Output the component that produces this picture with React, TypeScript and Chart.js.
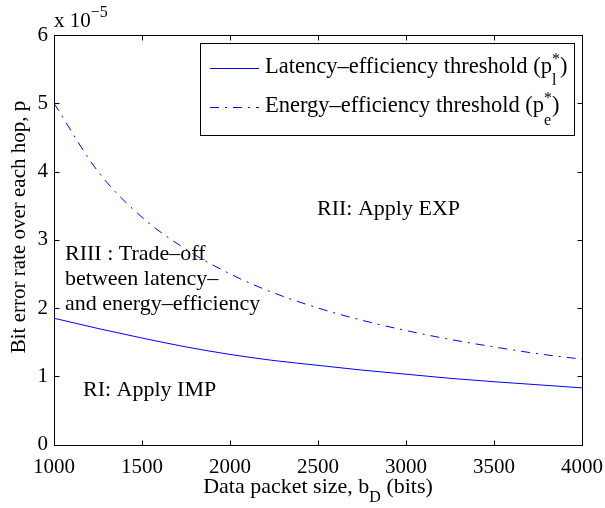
import React, { useEffect, useRef } from "react";
import { Chart, registerables } from "chart.js";

Chart.register(...registerables);

// Data (p values in units of 1e-5)
const packetSizes = [1000, 1250, 1500, 1750, 2000, 2250, 2500, 2750, 3000, 3250, 3500, 3750, 4000];
const latencyThreshold = [1.85, 1.7, 1.56, 1.43, 1.32, 1.23, 1.16, 1.09, 1.03, 0.97, 0.92, 0.875, 0.83];
const energyThreshold = [5.0, 4.0, 3.33, 2.86, 2.5, 2.22, 2.0, 1.82, 1.67, 1.54, 1.43, 1.33, 1.25];
const xTicks = [1000, 1500, 2000, 2500, 3000, 3500, 4000];
const yTicks = [0, 1, 2, 3, 4, 5, 6];

const FONT = '"Liberation Serif", "Times New Roman", serif';
const BLUE = "#0000ff";
const DASHDOT = [9, 6, 2, 6];

type Run = { t?: string; size: number; dy?: number; sup?: string; sub?: string; supDy?: number; subDy?: number };

function drawRuns(ctx: CanvasRenderingContext2D, runs: Run[], x: number, y: number, align: "left" | "center" = "left") {
  const widths = runs.map((r) => {
    ctx.font = `${r.size}px ${FONT}`;
    if (r.t !== undefined) return ctx.measureText(r.t).width;
    const a = r.sup ? ctx.measureText(r.sup).width : 0;
    const b = r.sub ? ctx.measureText(r.sub).width : 0;
    return Math.max(a, b);
  });
  const total = widths.reduce((s, w) => s + w, 0);
  let cx = align === "center" ? x - total / 2 : x;
  ctx.textAlign = "left";
  ctx.textBaseline = "alphabetic";
  runs.forEach((r, i) => {
    ctx.font = `${r.size}px ${FONT}`;
    if (r.t !== undefined) {
      ctx.fillText(r.t, cx, y + (r.dy || 0));
    } else {
      if (r.sup) ctx.fillText(r.sup, cx, y + (r.supDy || 0));
      if (r.sub) ctx.fillText(r.sub, cx, y + (r.subDy || 0));
    }
    cx += widths[i];
  });
}

const decorPlugin = {
  id: "decor",
  afterDraw(chart: any) {
    const ctx: CanvasRenderingContext2D = chart.ctx;
    const { left, right, top, bottom } = chart.chartArea;
    const xs = chart.scales.x;
    const ys = chart.scales.y;
    ctx.save();
    ctx.fillStyle = "#000";
    ctx.strokeStyle = "#000";
    ctx.lineWidth = 1;
    const L = Math.round(left) + 0.5;
    const R = Math.round(right) + 0.5;
    const T = Math.round(top) + 0.5;
    const B = Math.round(bottom) + 0.5;
    ctx.strokeRect(L, T, R - L, B - T);
    const tl = 5;
    ctx.beginPath();
    xTicks.forEach((v) => {
      const px = Math.round(xs.getPixelForValue(v)) + 0.5;
      ctx.moveTo(px, B);
      ctx.lineTo(px, B - tl);
      ctx.moveTo(px, T);
      ctx.lineTo(px, T + tl);
    });
    yTicks.forEach((v) => {
      const py = Math.round(ys.getPixelForValue(v)) + 0.5;
      ctx.moveTo(L, py);
      ctx.lineTo(L + tl, py);
      ctx.moveTo(R, py);
      ctx.lineTo(R - tl, py);
    });
    ctx.stroke();

    // multiplier
    drawRuns(ctx, [
      { t: "x 10", size: 21 },
      { t: "\u22125", size: 16, dy: -10 },
    ], 54, 27);

    // axis titles
    drawRuns(ctx, [
      { t: "Data packet size, b", size: 22 },
      { t: "D", size: 16, dy: 9 },
      { t: " (bits)", size: 22 },
    ], (left + right) / 2, 493, "center");

    ctx.save();
    ctx.translate(25, 227);
    ctx.rotate(-Math.PI / 2);
    ctx.font = `21px ${FONT}`;
    ctx.textAlign = "center";
    ctx.textBaseline = "alphabetic";
    ctx.fillText("Bit error rate over each hop, p", 0, 0);
    ctx.restore();

    // annotations
    ctx.font = `22px ${FONT}`;
    ctx.textAlign = "left";
    ctx.fillText("RII: Apply EXP", 317, 215);
    ctx.fillText("RIII : Trade\u2013off", 65, 260);
    ctx.fillText("between latency\u2013", 65, 285);
    ctx.fillText("and energy\u2013efficiency", 65, 310);
    ctx.fillText("RI: Apply IMP", 83, 396);

    // legend box
    const lx = 200.5, ly = 43.5, lw = 374, lh = 92;
    ctx.fillStyle = "#fff";
    ctx.fillRect(lx, ly, lw, lh);
    ctx.strokeStyle = "#000";
    ctx.strokeRect(lx, ly, lw, lh);
    ctx.strokeStyle = BLUE;
    ctx.beginPath();
    ctx.moveTo(210, 68.5);
    ctx.lineTo(259, 68.5);
    ctx.stroke();
    ctx.setLineDash(DASHDOT);
    ctx.beginPath();
    ctx.moveTo(210, 107.5);
    ctx.lineTo(259, 107.5);
    ctx.stroke();
    ctx.setLineDash([]);
    ctx.fillStyle = "#000";
    drawRuns(ctx, [
      { t: "Latency\u2013efficiency threshold (p", size: 22.5 },
      { sup: "*", sub: "l", size: 16, supDy: -9, subDy: 12 },
      { t: ")", size: 22.5 },
    ], 265, 73);
    drawRuns(ctx, [
      { t: "Energy\u2013efficiency threshold (p", size: 22.5 },
      { sup: "*", sub: "e", size: 16, supDy: -9, subDy: 13 },
      { t: ")", size: 22.5 },
    ], 265, 112);
    ctx.restore();
  },
};

export default function App() {
  const ref = useRef<HTMLCanvasElement | null>(null);
  useEffect(() => {
    if (!ref.current) return;
    const chart = new Chart(ref.current, {
      type: "line",
      data: {
        datasets: [
          {
            label: "Latency\u2013efficiency threshold",
            data: packetSizes.map((x, i) => ({ x, y: latencyThreshold[i] })),
            borderColor: BLUE,
            borderWidth: 1,
            pointRadius: 0,
            fill: false,
            cubicInterpolationMode: "monotone",
          },
          {
            label: "Energy\u2013efficiency threshold",
            data: packetSizes.map((x, i) => ({ x, y: energyThreshold[i] })),
            borderColor: BLUE,
            borderWidth: 1,
            borderDash: DASHDOT,
            pointRadius: 0,
            fill: false,
            cubicInterpolationMode: "monotone",
          },
        ],
      },
      options: {
        responsive: false,
        animation: false,
        devicePixelRatio: 1,
        layout: { padding: { top: 35, right: 23, left: 0, bottom: 0 } },
        plugins: { legend: { display: false }, tooltip: { enabled: false } },
        scales: {
          x: {
            type: "linear",
            min: 1000,
            max: 4000,
            grid: { display: false, drawTicks: false },
            border: { display: false },
            ticks: {
              stepSize: 500,
              autoSkip: false,
              maxRotation: 0,
              padding: 10,
              color: "#000",
              font: { family: FONT, size: 21 },
              callback: (v: any) => String(v),
            },
            afterFit: (s: any) => {
              s.height = 63.5;
              s.paddingLeft = 0;
              s.paddingRight = 0;
            },
          },
          y: {
            type: "linear",
            min: 0,
            max: 6,
            grid: { display: false, drawTicks: false },
            border: { display: false },
            ticks: {
              stepSize: 1,
              padding: 6,
              color: "#000",
              font: { family: FONT, size: 21 },
              callback: (v: any) => String(v),
            },
            afterFit: (s: any) => {
              s.width = 54;
              s.paddingTop = 0;
              s.paddingBottom = 0;
            },
          },
        },
      },
      plugins: [decorPlugin],
    } as any);
    return () => chart.destroy();
  }, []);
  return (
    <div style={{ position: "absolute", left: 0, top: 0, width: 605, height: 508 }}>
      <canvas ref={ref} width={605} height={508} />
    </div>
  );
}
